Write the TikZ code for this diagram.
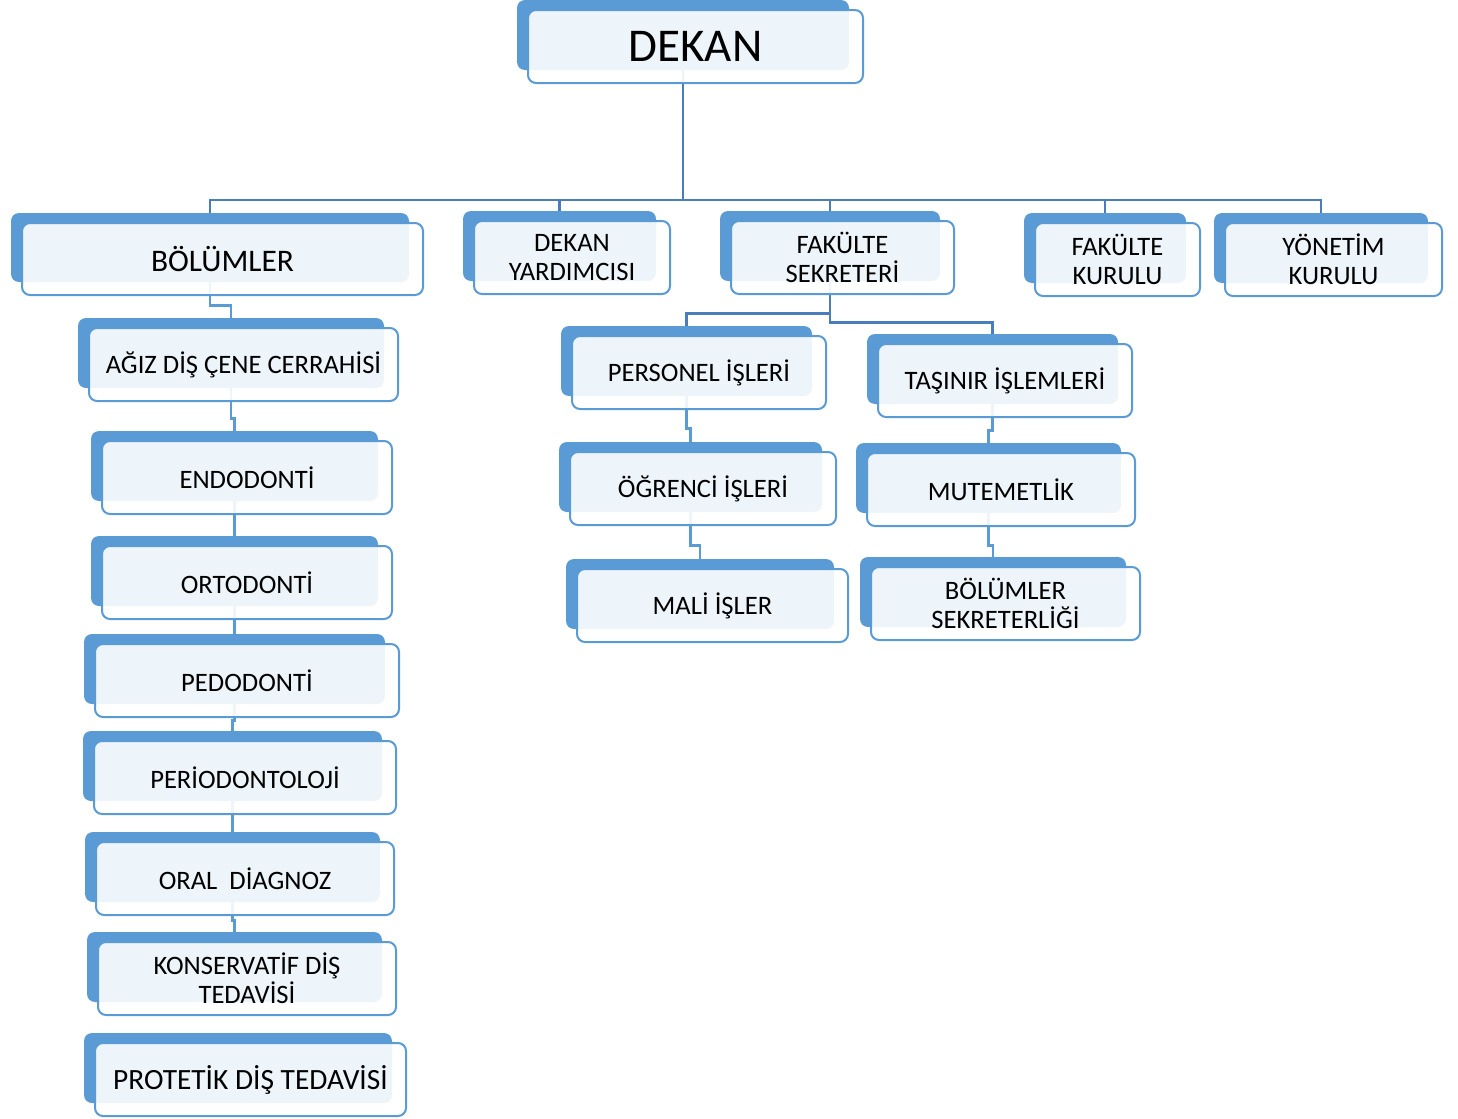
\documentclass[tikz,border=0pt]{standalone}
\usepackage{fontspec}
\setmainfont{Carlito}
\usetikzlibrary{fit,calc}
\pgfdeclarelayer{bg}
\pgfsetlayers{bg,main}
\definecolor{bblue}{HTML}{5B9BD5}
\definecolor{lblue}{HTML}{4A7EBB}
\tikzset{
 backbox/.style={draw=none, fill=bblue, rounded corners=4pt, inner sep=0pt},
 frontbox/.style={draw=bblue, line width=1pt, fill=white, fill opacity=0.9, rounded corners=4pt, inner sep=0pt},
 boxtext/.style={inner sep=0pt, align=center, font=\fontsize{13.3}{14.5}\selectfont},
 conn/.style={draw=lblue, line width=1.3pt},
 sconn/.style={draw=bblue, line width=1.1pt},
}
\newcommand\orgbox[7][]{%
 \node[backbox, fit={(#3,#4) (#5,#6)}] (#2) {};
 \node[frontbox, fit={(#3+11,#4+10) (#5+14,#6+13)}] (#2-f) {};
 \node[boxtext,#1] (#2-t) at (#2-f.center) {#7};
}
\begin{document}
\begin{tikzpicture}[x=0.5pt,y=-0.5pt]
\useasboundingbox (0,0) rectangle (1458,1119);
\orgbox[font=\fontsize{23.5}{27}\selectfont]{dekan}{517}{0}{849}{70}{DEKAN}
\orgbox[font=\fontsize{15.7}{18}\selectfont]{bol}{11}{213}{409}{282}{BÖLÜMLER}
\orgbox{dy}{463}{211}{656}{281}{DEKAN\\YARDIMCISI}
\orgbox{fs}{720}{211}{940}{281}{FAKÜLTE\\SEKRETERİ}
\orgbox{fk}{1024}{213}{1186}{283}{FAKÜLTE\\KURULU}
\orgbox{yon}{1214}{213}{1428}{283}{YÖNETİM\\KURULU}
\orgbox{agiz}{78}{318}{384}{388}{AĞIZ DİŞ ÇENE CERRAHİSİ}
\orgbox{endo}{91}{431}{378}{501}{ENDODONTİ}
\orgbox{orto}{91}{536}{378}{606}{ORTODONTİ}
\orgbox{pedo}{84}{634}{385}{704}{PEDODONTİ}
\orgbox{perio}{83}{731}{382}{801}{PERİODONTOLOJİ}
\orgbox{oral}{85}{832}{380}{902}{ORAL\ \ DİAGNOZ}
\orgbox{kons}{87}{932}{382}{1002}{KONSERVATİF DİŞ\\TEDAVİSİ}
\orgbox[font=\fontsize{14.7}{17}\selectfont]{prot}{84}{1033}{392}{1103}{PROTETİK DİŞ TEDAVİSİ}
\orgbox{pers}{561}{326}{812}{396}{PERSONEL İŞLERİ}
\orgbox{ogr}{559}{442}{822}{512}{ÖĞRENCİ İŞLERİ}
\orgbox{mali}{566}{559}{834}{629}{MALİ İŞLER}
\orgbox{tas}{867}{334}{1118}{404}{TAŞINIR İŞLEMLERİ}
\orgbox{mut}{856}{443}{1121}{513}{MUTEMETLİK}
\orgbox{bs}{860}{557}{1126}{627}{BÖLÜMLER\\SEKRETERLİĞİ}
\begin{pgfonlayer}{bg}
\coordinate (bus) at (683,200);
\draw[conn] (dekan.south) -- (bus);
\draw[conn] (bol.north) |- (bus) -| (yon.north);
\draw[conn] (dy.north) -- (dy.north |- bus);
\draw[conn] (fs.north) -- (fs.north |- bus);
\draw[conn] (fk.north) -- (fk.north |- bus);
\draw[sconn] (bol.south) -- ++(0,23) -| (agiz.north);
\draw[sconn] (agiz.south) -- ++(0,30) -| (endo.north);
\draw[sconn] (endo.south) -- ++(0,20) -| (orto.north);
\draw[sconn] (orto.south) -- ++(0,16) -| (pedo.north);
\draw[sconn] (pedo.south) -- ++(0,16) -| (perio.north);
\draw[sconn] (perio.south) -- ++(0,20) -| (oral.north);
\draw[sconn] (oral.south) -- ++(0,18) -| (kons.north);
\draw[conn] (fs.south) -- ++(0,32) -| (pers.north);
\draw[conn] (fs.south) -- ++(0,41) -| (tas.north);
\draw[sconn] (pers.south) -- ++(0,32) -| (ogr.north);
\draw[sconn] (ogr.south) -- ++(0,33) -| (mali.north);
\draw[sconn] (tas.south) -- ++(0,26) -| (mut.north);
\draw[sconn] (mut.south) -- ++(0,32) -| (bs.north);
\end{pgfonlayer}
\end{tikzpicture}
\end{document}
